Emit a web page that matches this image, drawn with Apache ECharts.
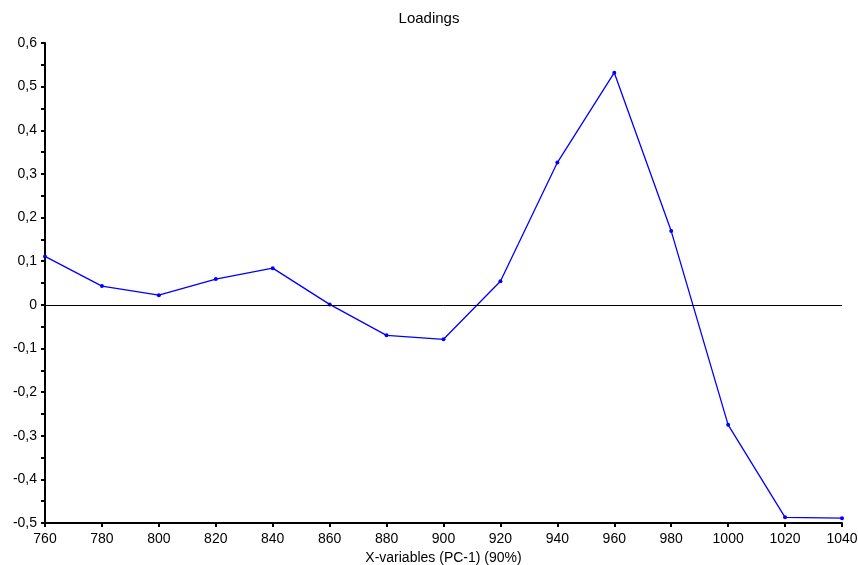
<!DOCTYPE html>
<html>
<head>
<meta charset="utf-8">
<script src="https://cdn.jsdelivr.net/npm/echarts@6/dist/echarts.min.js"></script>
<style>
  html, body { margin: 0; padding: 0; background: #fff; }
  #chart { width: 858px; height: 565px; }
</style>
</head>
<body>
<div id="chart"></div>
<script>
// Wavelength variables (x) and PC-1 loadings (y)
const wavelengths = [760, 780, 800, 820, 840, 860, 880, 900, 920, 940, 960, 980, 1000, 1020, 1040];
const loadings = [0.111, 0.043, 0.022, 0.059, 0.084, 0.001, -0.070, -0.079, 0.054, 0.326, 0.532, 0.169, -0.275, -0.487, -0.489];

const titleText = 'Loadings';
const xAxisName = 'X-variables (PC-1) (90%)';

// Decimal comma, as in the axis labels
const fmt = v => {
  const r = Math.round(v * 10) / 10;
  return r === 0 ? '0' : String(r).replace('.', ',');
};

const chart = echarts.init(document.getElementById('chart'), null, { renderer: 'canvas' });
chart.setOption({
  animation: false,
  backgroundColor: '#ffffff',
  textStyle: { fontFamily: 'Liberation Sans, Arial, sans-serif' },
  title: {
    text: titleText,
    left: 'center',
    top: 6,
    textStyle: { fontSize: 15, fontWeight: 'normal', color: '#000', fontFamily: 'Liberation Sans, Arial, sans-serif' }
  },
  grid: { left: 45, right: 16, top: 43, bottom: 42, containLabel: false, outerBoundsMode: 'none' },
  xAxis: {
    type: 'value',
    min: 760,
    max: 1040,
    interval: 20,
    name: xAxisName,
    nameLocation: 'middle',
    nameGap: 28,
    nameTextStyle: { fontSize: 14, color: '#000' },
    axisLine: { onZero: false, lineStyle: { color: '#000', width: 2 } },
    axisTick: { show: true, length: 4, lineStyle: { color: '#000', width: 2 } },
    axisLabel: { fontSize: 14, color: '#000', margin: 9, formatter: v => String(v) },
    splitLine: { show: false }
  },
  yAxis: {
    type: 'value',
    min: -0.5,
    max: 0.6,
    interval: 0.1,
    axisLine: { show: true, lineStyle: { color: '#000', width: 2 } },
    axisTick: { show: true, length: 4, lineStyle: { color: '#000', width: 2 } },
    minorTick: { show: true, splitNumber: 2, length: 4, lineStyle: { color: '#000', width: 2 } },
    axisLabel: { fontSize: 14, color: '#000', margin: 8, formatter: fmt },
    splitLine: { show: false }
  },
  series: [{
    type: 'line',
    data: wavelengths.map((w, i) => [w, loadings[i]]),
    symbol: 'circle',
    symbolSize: 4,
    showSymbol: true,
    lineStyle: { color: '#0000ff', width: 1.3 },
    itemStyle: { color: '#0000ff' },
    markLine: {
      silent: true,
      symbol: 'none',
      label: { show: false },
      lineStyle: { color: '#000', width: 1, type: 'solid' },
      data: [{ yAxis: 0 }]
    }
  }]
});
</script>
</body>
</html>
